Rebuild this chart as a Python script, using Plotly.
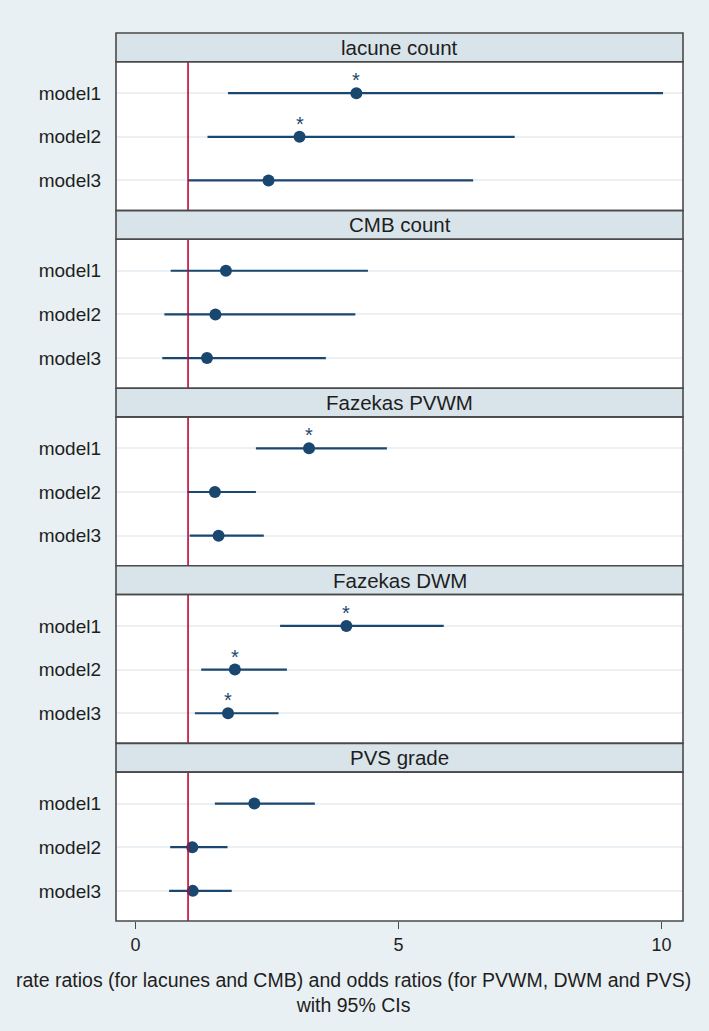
import plotly.graph_objects as go

panels = ["lacune count", "CMB count", "Fazekas PVWM", "Fazekas DWM", "PVS grade"]
models = ["model1", "model2", "model3"]

est = [
    [4.20, 3.12, 2.53],
    [1.72, 1.52, 1.36],
    [3.30, 1.51, 1.58],
    [4.01, 1.89, 1.76],
    [2.26, 1.08, 1.09],
]
lo = [
    [1.76, 1.37, 1.005],
    [0.67, 0.55, 0.51],
    [2.29, 0.99, 1.03],
    [2.75, 1.25, 1.13],
    [1.51, 0.66, 0.64],
]
hi = [
    [10.03, 7.21, 6.42],
    [4.42, 4.18, 3.62],
    [4.78, 2.29, 2.44],
    [5.86, 2.88, 2.72],
    [3.41, 1.75, 1.83],
]
sig = [
    [True, True, False],
    [False, False, False],
    [True, False, False],
    [True, True, True],
    [False, False, False],
]
x_ticks = [0, 5, 10]
ref_value = 1
x_title = "rate ratios (for lacunes and CMB) and odds ratios (for PVWM, DWM and PVS)<br>with 95% CIs"

W, H = 709, 1031
ML, MR, MT, MB = 116, 26, 33, 110
plot_h = H - MT - MB
header_px = 28.7
panel_px = plot_h / len(panels)

NAVY = "#1a476f"
RED = "#c10534"
BG = "#e9f0f3"
STRIP = "#d8e4ea"
FRAME = "#4a4a4a"
GRID = "#eaf0f3"
TXT = "#1e1e1e"
FONT = "Liberation Sans, Arial, sans-serif"

def py(px):
    return (H - MB - px) / plot_h

fig = go.Figure()
shapes = []
annotations = []
layout_axes = {}

for k, name in enumerate(panels):
    top_px = MT + k * panel_px
    hdr_bot_px = top_px + header_px
    bot_px = top_px + panel_px
    ax = "" if k == 0 else str(k + 1)
    yname = "y" + ax
    dom = [py(bot_px), py(hdr_bot_px)]
    layout_axes["yaxis" + ax] = dict(
        domain=dom, range=[3.69, 0.28], anchor="x",
        tickvals=[1, 2, 3], ticktext=models, showgrid=True, gridcolor=GRID,
        gridwidth=1.5, zeroline=False, showline=False, ticks="",
        ticklabelstandoff=14,
        tickfont=dict(family=FONT, size=19, color=TXT),
    )
    for i in range(3):
        fig.add_trace(go.Scatter(
            x=[lo[k][i], hi[k][i]], y=[i + 1, i + 1], mode="lines",
            line=dict(color=NAVY, width=2.2), xaxis="x", yaxis=yname,
            showlegend=False, hoverinfo="skip"))
    fig.add_trace(go.Scatter(
        x=est[k], y=[1, 2, 3], mode="markers",
        marker=dict(color=NAVY, size=12, line=dict(width=0)),
        xaxis="x", yaxis=yname, showlegend=False))
    for i in range(3):
        if sig[k][i]:
            annotations.append(dict(
                x=est[k][i], y=i + 1, xref="x", yref=yname, text="*",
                showarrow=False, yshift=13,
                font=dict(family=FONT, size=20, color=NAVY)))
    shapes.append(dict(type="line", xref="x", yref=yname + " domain",
                       x0=ref_value, x1=ref_value, y0=0, y1=1,
                       line=dict(color=RED, width=1.6), layer="above"))
    shapes.append(dict(type="rect", xref="paper", yref="paper",
                       x0=0, x1=1, y0=py(hdr_bot_px), y1=py(top_px),
                       fillcolor=STRIP, line=dict(color=FRAME, width=1.6),
                       layer="above"))
    annotations.append(dict(
        x=0.5, y=(py(hdr_bot_px) + py(top_px)) / 2, xref="paper", yref="paper",
        text=name, showarrow=False, xanchor="center", yanchor="middle",
        font=dict(family=FONT, size=20.5, color=TXT)))
    shapes.append(dict(type="rect", xref="paper", yref="paper",
                       x0=0, x1=1, y0=py(bot_px), y1=py(hdr_bot_px),
                       fillcolor="rgba(0,0,0,0)", line=dict(color=FRAME, width=1.6),
                       layer="above"))

plot_w = W - ML - MR
annotations.append(dict(
    x=(353 - ML) / plot_w, y=py(992), xref="paper", yref="paper",
    text=x_title, showarrow=False, xanchor="center", yanchor="middle",
    font=dict(family=FONT, size=19.5, color=TXT)))

fig.update_layout(
    width=W, height=H,
    margin=dict(l=ML, r=MR, t=MT, b=MB, pad=0),
    paper_bgcolor=BG, plot_bgcolor="white",
    xaxis=dict(range=[-0.37, 10.41], tickvals=x_ticks, ticks="outside",
               ticklen=7, tickwidth=1.3, tickcolor=FRAME, showgrid=False,
               zeroline=False, showline=False, anchor="y5",
               tickfont=dict(family=FONT, size=18, color=TXT)),
    shapes=shapes, annotations=annotations,
    showlegend=False,
)
fig.update_layout(**layout_axes)

fig.write_html("out.html", config={"displayModeBar": False},
               post_script="document.body.style.margin='0';document.body.style.padding='0';")
